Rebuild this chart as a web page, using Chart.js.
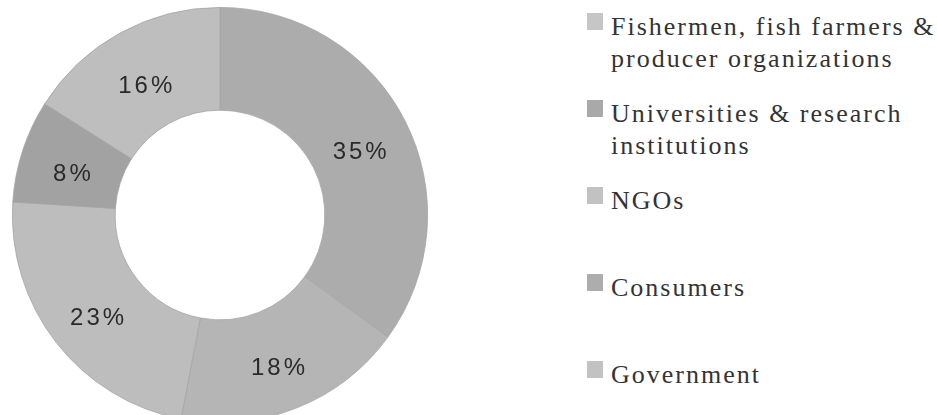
<!DOCTYPE html>
<html>
<head>
<meta charset="utf-8">
<script src="https://cdn.jsdelivr.net/npm/chart.js@4/dist/chart.umd.min.js"></script>
<style>
    html, body { margin: 0; padding: 0; background: #fff; }
    body { width: 937px; height: 415px; overflow: hidden; position: relative; }
    #chartBox { position: absolute; left: 12px; top: 7px; width: 416px; height: 416px; }
    #legend { position: absolute; left: 587px; top: 11px; margin: 0; padding: 0; list-style: none; }
    #legend li { height: 87px; position: relative; padding-left: 24px; }
    #legend .box { position: absolute; left: 0; top: 2px; width: 16px; height: 17px; }
    #legend .txt {
        font-family: 'Liberation Serif', 'Times New Roman', serif;
        font-size: 26px; line-height: 32px; letter-spacing: 2px;
        color: #333; white-space: nowrap;
    }
</style>
</head>
<body>
<div id="chartBox"><canvas id="donut"></canvas></div>
<ul id="legend"></ul>
<script>
const labels = [
    ['Fishermen, fish farmers &', 'producer organizations'],
    ['Universities & research', 'institutions'],
    ['NGOs'],
    ['Consumers'],
    ['Government']
];
const shares = [35, 18, 23, 8, 16];
const sliceColors = ['#acacac', '#b5b5b5', '#bdbdbd', '#a2a2a2', '#bebebe'];
const legendColors = ['#c6c6c6', '#a9a9a9', '#c2c2c2', '#adadad', '#c2c2c2'];

// draws the % text in the middle of each slice
const sliceLabels = {
    id: 'sliceLabels',
    afterDatasetsDraw(chart) {
        const ctx = chart.ctx;
        const meta = chart.getDatasetMeta(0);
        ctx.save();
        ctx.font = "24px 'Liberation Sans', Arial, sans-serif";
        ctx.letterSpacing = '3px';
        ctx.fillStyle = '#2a2a2a';
        ctx.textAlign = 'center';
        ctx.textBaseline = 'middle';
        meta.data.forEach((arc, i) => {
            const p = arc.tooltipPosition();
            ctx.fillText(shares[i] + '%', p.x + 2, p.y + 8);
        });
        ctx.restore();
    }
};

// html legend so the serif text can be letter-spaced like the original
const htmlLegend = {
    id: 'htmlLegend',
    afterUpdate(chart) {
        const ul = document.getElementById('legend');
        ul.innerHTML = '';
        chart.data.labels.forEach((lab, i) => {
            const li = document.createElement('li');
            const box = document.createElement('span');
            box.className = 'box';
            box.style.background = legendColors[i];
            const txt = document.createElement('div');
            txt.className = 'txt';
            txt.innerHTML = lab.join('<br>');
            li.appendChild(box);
            li.appendChild(txt);
            ul.appendChild(li);
        });
    }
};

new Chart(document.getElementById('donut').getContext('2d'), {
    type: 'doughnut',
    data: {
        labels: labels,
        datasets: [{
            data: shares,
            backgroundColor: sliceColors,
            borderColor: '#a4a4a4',
            borderWidth: 0.8
        }]
    },
    options: {
        responsive: true,
        maintainAspectRatio: false,
        animation: false,
        cutout: '50.5%',
        layout: { padding: 0 },
        plugins: {
            legend: { display: false },
            tooltip: { enabled: false }
        }
    },
    plugins: [sliceLabels, htmlLegend]
});
</script>
</body>
</html>
